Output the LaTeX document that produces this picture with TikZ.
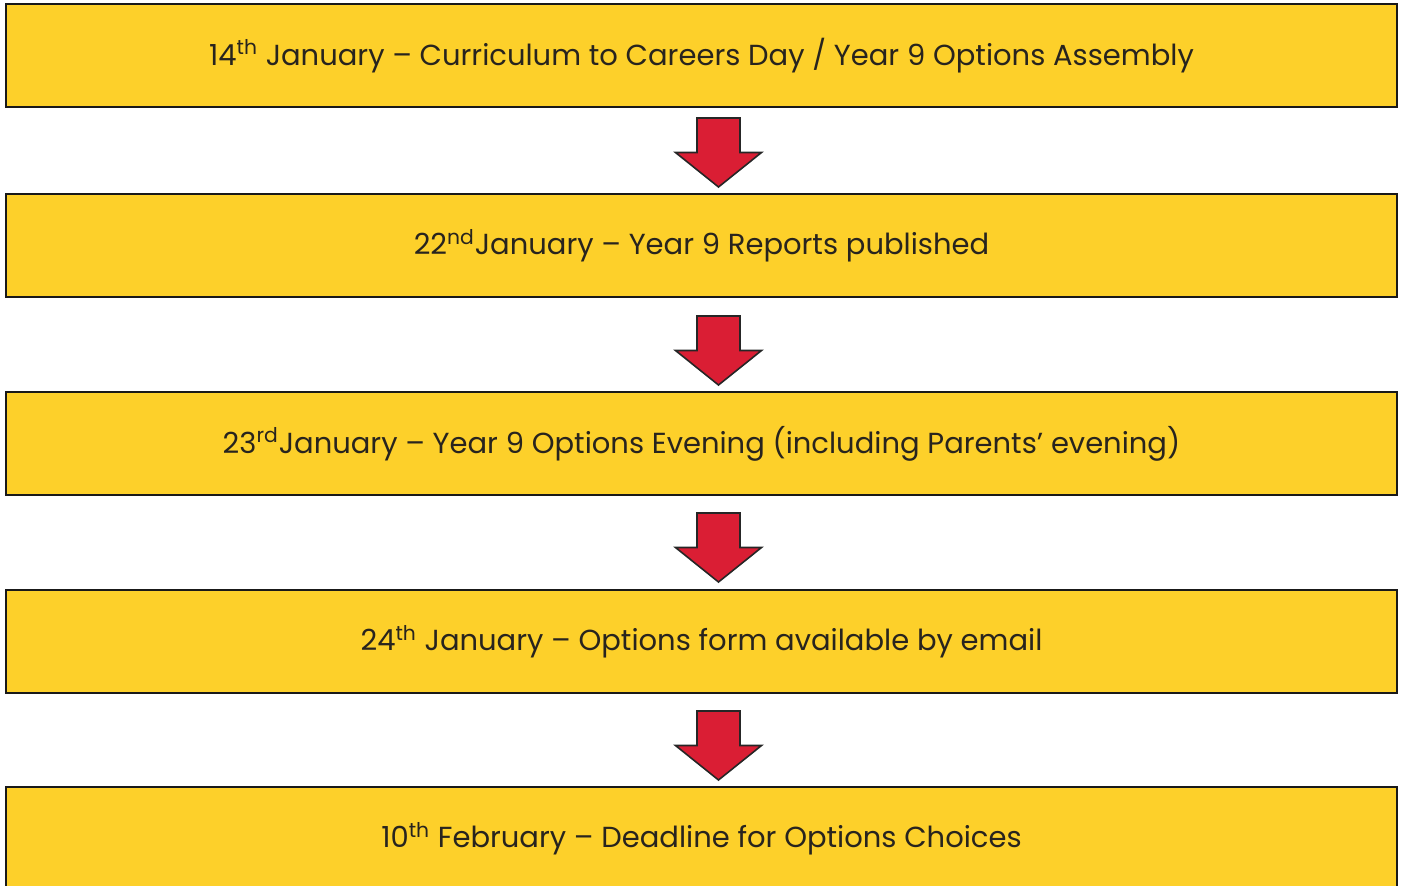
\documentclass[tikz,border=0pt]{standalone}
\usepackage{fontspec}
\setmainfont{Poppins}
\usetikzlibrary{calc}
\definecolor{optyellow}{RGB}{253,208,42}
\definecolor{optred}{RGB}{218,30,52}
\definecolor{opttext}{RGB}{40,36,30}
\tikzset{
  stagebox/.style={draw=black!90,line width=1.1pt,fill=optyellow,
    minimum width=695.5pt,minimum height=51.5pt,inner sep=0pt,
    text=opttext,font=\fontsize{14.5}{17}\selectfont},
  downarr/.pic={
    \draw[fill=optred,draw=black!85,line width=0.8pt,line join=miter]
      (-21.5,-34.5) -- (21.5,-34.5) -- (21.5,0) -- (43,0) -- (0,34.5)
      -- (-43,0) -- (-21.5,0) -- cycle;}
}
\begin{document}
\begin{tikzpicture}[x=0.5pt,y=-0.5pt]
\clip (0,0) rectangle (1402,886);
\fill[white] (0,0) rectangle (1402,886);
% the five stages
\node[stagebox] (b1) at (701.5,55.5) {14\textsuperscript{th} January – Curriculum to Careers Day / Year 9 Options Assembly};
\node[stagebox] (b2) at (701.5,245.5) {22\textsuperscript{nd}January – Year 9 Reports published};
\node[stagebox] (b3) at (701.5,443.5) {23\textsuperscript{rd}January – Year 9 Options Evening (including Parents’ evening)};
\node[stagebox] (b4) at (701.5,641.5) {24\textsuperscript{th} January – Options form available by email};
\node[stagebox] (b5) at (701.5,838.5) {10\textsuperscript{th} February – Deadline for Options Choices};
% block arrows between them
\foreach \y in {152.5,350.5,547.5,745.5}
  \pic at (718.5,\y) {downarr};
\end{tikzpicture}
\end{document}
